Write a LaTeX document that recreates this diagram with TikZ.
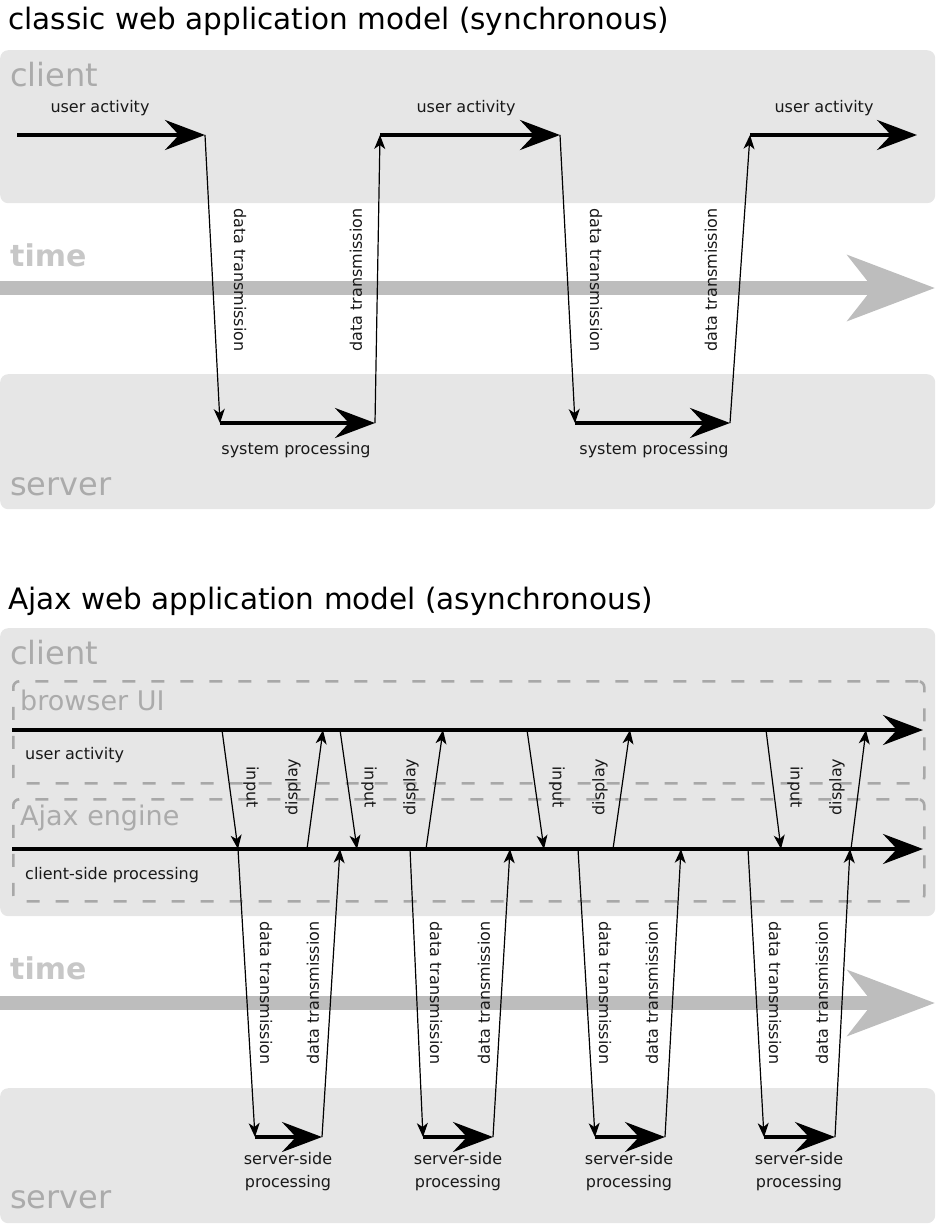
\documentclass[tikz,border=0pt]{standalone}
\usepackage{fontspec}
\setmainfont{DejaVu Sans}
\usetikzlibrary{arrows.meta}

\definecolor{lanegray}{HTML}{E6E6E6}
\definecolor{lblgray}{HTML}{ABABAB}
\definecolor{timegray}{HTML}{BDBDBD}
\definecolor{dashgray}{HTML}{A8A8A8}

\begin{document}
\begin{tikzpicture}[x=1pt, y=-1pt,
    lane/.style={fill=lanegray, rounded corners=8pt, anchor=north west, inner sep=0pt, minimum width=935pt},
    zone/.style={draw=dashgray, line width=2.6pt, dash pattern=on 13pt off 16pt, rounded corners=6pt, anchor=north west, inner sep=0pt, minimum width=911pt, minimum height=102pt},
    lanelabel/.style={anchor=west, text=lblgray, font=\fontsize{32}{36}\selectfont, inner sep=0pt},
    zonelabel/.style={anchor=west, text=lblgray, font=\fontsize{27}{30}\selectfont, inner sep=0pt},
    timelabel/.style={anchor=west, text=timegray!85, font=\bfseries\fontsize{30}{34}\selectfont, inner sep=0pt},
    heading/.style={anchor=west, font=\fontsize{29.5}{33}\selectfont, inner sep=0pt},
    small/.style={font=\fontsize{16}{23}\selectfont, inner sep=0pt, text=black!90},
    activity/.style={line width=4pt, -{Stealth[length=40pt, width=30pt, inset=14pt]}},
    transfer/.style={line width=1.2pt, -{Stealth[length=14pt, width=11pt, inset=4pt]}},
    timeline/.style={line width=14pt, timegray, -{Stealth[length=87pt, width=65pt, inset=25pt]}}
  ]
    \useasboundingbox (0,0) rectangle (936,1226);

    % Top panel: classic model
    \node[heading] (title1) at (8,21) {classic web application model (synchronous)};
    \node[lane, minimum height=153pt] (client1) at (0,50) {};
    \node[lanelabel] (client1lbl) at (10,75) {client};
    \node[lane, minimum height=135pt] (server1) at (0,374) {};
    \node[lanelabel] (server1lbl) at (10,487) {server};
    \node[timelabel] (time1lbl) at (10,255) {time};
    \coordinate (time1s) at (0,288);
    \coordinate (time1e) at (935,288);
    \draw[timeline] (time1s) -- (time1e);

    \coordinate (ua1s) at (17,135);  \coordinate (ua1e) at (205,135);
    \coordinate (ua2s) at (380,135); \coordinate (ua2e) at (560,135);
    \coordinate (ua3s) at (750,135); \coordinate (ua3e) at (917,135);
    \coordinate (sp1s) at (220,423); \coordinate (sp1e) at (375,423);
    \coordinate (sp2s) at (575,423); \coordinate (sp2e) at (730,423);

    \draw[activity] (ua1s) -- (ua1e);
    \draw[activity] (ua2s) -- (ua2e);
    \draw[activity] (ua3s) -- (ua3e);
    \draw[activity] (sp1s) -- (sp1e);
    \draw[activity] (sp2s) -- (sp2e);

    \draw[transfer] (ua1e) -- (sp1s);
    \draw[transfer] (sp1e) -- (ua2s);
    \draw[transfer] (ua2e) -- (sp2s);
    \draw[transfer] (sp2e) -- (ua3s);

    \node[small] (ua1lbl) at (100,108) {user activity};
    \node[small] (ua2lbl) at (466,108) {user activity};
    \node[small] (ua3lbl) at (824,108) {user activity};
    \node[small] (sp1lbl) at (296,450) {system processing};
    \node[small] (sp2lbl) at (654,450) {system processing};
    \node[small, rotate=-90] (dt1lbl) at (240,280) {data transmission};
    \node[small, rotate=90] (dt2lbl) at (356,280) {data transmission};
    \node[small, rotate=-90] (dt3lbl) at (596,280) {data transmission};
    \node[small, rotate=90] (dt4lbl) at (711,280) {data transmission};

    % Bottom panel: Ajax model
    \node[heading] (title2) at (8,601) {Ajax web application model (asynchronous)};
    \node[lane, minimum height=288pt] (client2) at (0,628) {};
    \node[lanelabel] (client2lbl) at (10,653) {client};
    \node[zone] (browser) at (12,680) {};
    \node[zonelabel] (browserlbl) at (20,700) {browser UI};
    \node[zone] (engine) at (12,798) {};
    \node[zonelabel] (enginelbl) at (20,818) {Ajax engine};
    \node[lane, minimum height=135pt] (server2) at (0,1088) {};
    \node[lanelabel] (server2lbl) at (10,1200) {server};
    \node[timelabel] (time2lbl) at (10,968) {time};
    \coordinate (time2s) at (0,1003);
    \coordinate (time2e) at (935,1003);
    \draw[timeline] (time2s) -- (time2e);

    \coordinate (uis) at (12,730);  \coordinate (uie) at (923,730);
    \coordinate (cps) at (12,849);  \coordinate (cpe) at (923,849);
    \draw[activity] (uis) -- (uie);
    \draw[activity] (cps) -- (cpe);
    \node[small, anchor=west] (uilbl) at (25,755) {user activity};
    \node[small, anchor=west] (cplbl) at (25,875) {client-side processing};

    % input / display between browser UI and Ajax engine
    \coordinate (in1a) at (222,730); \coordinate (in1b) at (238,849);
    \coordinate (in2a) at (340,730); \coordinate (in2b) at (357,849);
    \coordinate (in3a) at (527,730); \coordinate (in3b) at (544,849);
    \coordinate (in4a) at (766,730); \coordinate (in4b) at (781,849);
    \coordinate (ds1a) at (307,849); \coordinate (ds1b) at (323,730);
    \coordinate (ds2a) at (426,849); \coordinate (ds2b) at (443,730);
    \coordinate (ds3a) at (613,849); \coordinate (ds3b) at (630,730);
    \coordinate (ds4a) at (851,849); \coordinate (ds4b) at (866,730);

    \draw[transfer] (in1a) -- (in1b);
    \draw[transfer] (in2a) -- (in2b);
    \draw[transfer] (in3a) -- (in3b);
    \draw[transfer] (in4a) -- (in4b);
    \draw[transfer] (ds1a) -- (ds1b);
    \draw[transfer] (ds2a) -- (ds2b);
    \draw[transfer] (ds3a) -- (ds3b);
    \draw[transfer] (ds4a) -- (ds4b);

    \node[small, rotate=-90] (in1lbl) at (251,787) {input};
    \node[small, rotate=-90] (in2lbl) at (369,787) {input};
    \node[small, rotate=-90] (in3lbl) at (557,787) {input};
    \node[small, rotate=-90] (in4lbl) at (795,787) {input};
    \node[small, rotate=90] (ds1lbl) at (293,787) {display};
    \node[small, rotate=90] (ds2lbl) at (411,787) {display};
    \node[small, rotate=90] (ds3lbl) at (600,787) {display};
    \node[small, rotate=90] (ds4lbl) at (837,787) {display};

    % requests to the server
    \coordinate (rq1a) at (238,849); \coordinate (rq1b) at (255,1137);
    \coordinate (rq2a) at (410,849); \coordinate (rq2b) at (423,1137);
    \coordinate (rq3a) at (578,849); \coordinate (rq3b) at (595,1137);
    \coordinate (rq4a) at (748,849); \coordinate (rq4b) at (764,1137);
    \coordinate (rs1a) at (322,1137); \coordinate (rs1b) at (340,849);
    \coordinate (rs2a) at (493,1137); \coordinate (rs2b) at (510,849);
    \coordinate (rs3a) at (665,1137); \coordinate (rs3b) at (681,849);
    \coordinate (rs4a) at (835,1137); \coordinate (rs4b) at (850,849);

    \draw[activity] (rq1b) -- (rs1a);
    \draw[activity] (rq2b) -- (rs2a);
    \draw[activity] (rq3b) -- (rs3a);
    \draw[activity] (rq4b) -- (rs4a);

    \draw[transfer] (rq1a) -- (rq1b);
    \draw[transfer] (rq2a) -- (rq2b);
    \draw[transfer] (rq3a) -- (rq3b);
    \draw[transfer] (rq4a) -- (rq4b);
    \draw[transfer] (rs1a) -- (rs1b);
    \draw[transfer] (rs2a) -- (rs2b);
    \draw[transfer] (rs3a) -- (rs3b);
    \draw[transfer] (rs4a) -- (rs4b);

    \node[small, rotate=-90] (rq1lbl) at (266,993) {data transmission};
    \node[small, rotate=-90] (rq2lbl) at (436,993) {data transmission};
    \node[small, rotate=-90] (rq3lbl) at (605,993) {data transmission};
    \node[small, rotate=-90] (rq4lbl) at (775,993) {data transmission};
    \node[small, rotate=90] (rs1lbl) at (313,993) {data transmission};
    \node[small, rotate=90] (rs2lbl) at (484,993) {data transmission};
    \node[small, rotate=90] (rs3lbl) at (652,993) {data transmission};
    \node[small, rotate=90] (rs4lbl) at (822,993) {data transmission};

    \node[small, align=center] (ss1lbl) at (288,1172) {server-side\\processing};
    \node[small, align=center] (ss2lbl) at (458,1172) {server-side\\processing};
    \node[small, align=center] (ss3lbl) at (629,1172) {server-side\\processing};
    \node[small, align=center] (ss4lbl) at (799,1172) {server-side\\processing};
\end{tikzpicture}
\end{document}
